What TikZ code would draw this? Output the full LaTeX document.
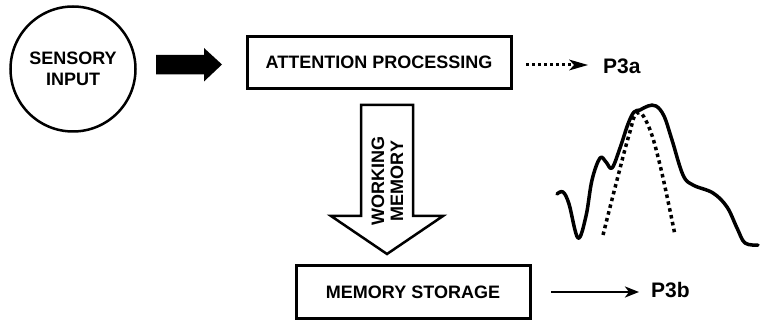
\documentclass[tikz,border=0pt]{standalone}
\usepackage{fontspec}
\setmainfont{Liberation Sans}
\usetikzlibrary{arrows.meta}
\begin{document}
\begin{tikzpicture}[x=1pt,y=-1pt,
  lbl/.style={font=\fontsize{18}{20.5}\selectfont\bfseries, align=center},
  plbl/.style={font=\fontsize{21}{24}\selectfont\bfseries, anchor=west, inner sep=0pt},
  boxst/.style={draw, line width=3pt, minimum width=#1, minimum height=52pt, lbl},
  wave/.style={line width=3.5pt, line cap=round, line join=round}
]
\useasboundingbox (0,0) rectangle (760,320);
% sensory input
\node[circle, draw, line width=2.5pt, minimum size=125pt, lbl, inner sep=0pt] (sens) at (73,69) {SENSORY\\INPUT};
% attention box
\node[boxst=264pt] (att) at (379,62.5) {ATTENTION PROCESSING};
% memory storage box
\node[boxst=234pt] (mem) at (413,292) {MEMORY STORAGE};
% fat black arrow
\coordinate (fa) at (156,64.5);
\fill (fa) ++(0,-9.5) -- ++(48,0) -- ++(0,-7) -- ++(18,16.5) -- ++(-18,17) -- ++(0,-7) -- ++(-48,0) -- cycle;
% hollow down arrow
\coordinate (ha) at (387,105);
\draw[line width=2.5pt, line join=miter, fill=white] (ha) ++(-26,0) -- ++(52,0) -- ++(0,111) -- ++(30,0) -- (387,254) -- (331,216) -- ++(30,0) -- cycle;
\node[lbl, rotate=90, inner sep=0pt, font=\fontsize{18}{19}\selectfont\bfseries] (wm) at (387.5,181) {WORKING\\MEMORY};
% P3a
\node[plbl] (p3a) at (603,66) {P3a};
\coordinate (da) at (526,65);
\draw[line width=3pt, dash pattern=on 3pt off 3pt] (da) -- (575,65);
\fill (569,59.5) -- (588,65) -- (569,70.5) -- (574,65) -- cycle;
% P3b
\node[plbl] (p3b) at (651,290) {P3b};
\coordinate (sa) at (551,292);
\draw[line width=2.5pt, -{Stealth[length=14pt,width=11pt,inset=4pt]}] (sa) -- (639,292);
% waveform
\draw[wave] plot[smooth, tension=0.6] coordinates {
 (557,194) (563,192) (569,204) (578,238) (586,216) (592,180) (600,158) (606,162) (612,168)
 (620,148) (628,124) (634,112) (640,110) (648,106) (656,106) (664,116) (672,140) (683,175)
 (693,185) (713,193) (727,207) (737,228) (745,243) (758,245)};
% dotted component
\draw[line width=3.5pt, dash pattern=on 3.5pt off 3.5pt] plot[smooth, tension=0.7] coordinates {
 (603,235) (617,180) (629,135) (637,113) (648,125) (660,165) (675,235)};
\end{tikzpicture}
\end{document}
